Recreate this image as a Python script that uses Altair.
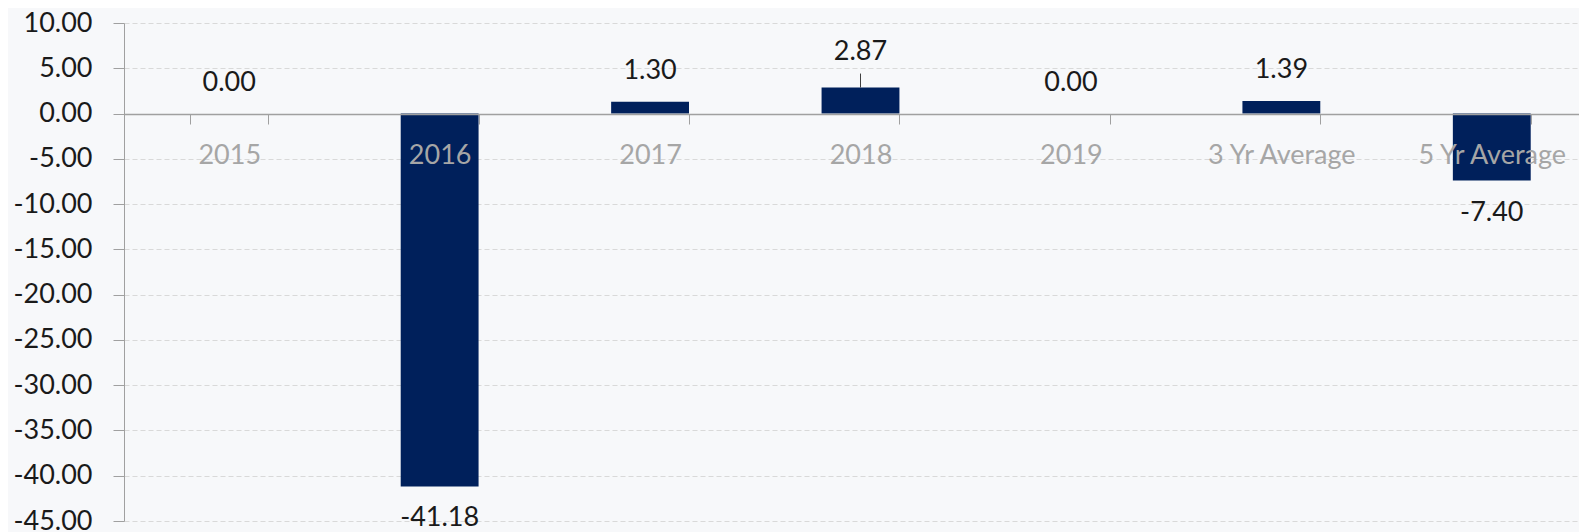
import altair as alt
import pandas as pd

categories = ["2015", "2016", "2017", "2018", "2019", "3 Yr Average", "5 Yr Average"]
values = [0.00, -41.18, 1.30, 2.87, 0.00, 1.39, -7.40]
leader_categories = ["2018"]
y_ticks = [10, 5, 0, -5, -10, -15, -20, -25, -30, -35, -40, -45]

df = pd.DataFrame({"category": categories, "value": values})

FONT = "Lato"
BG = "#f7f8fa"
NAVY = "#00205b"
FMT = "replace(format(datum.value, '.2f'), '\u2212', '-')"

x = alt.X(
    "category:N",
    sort=categories,
    scale=alt.Scale(paddingInner=0.63, paddingOuter=0.315),
    axis=alt.Axis(
        title=None,
        orient="bottom",
        offset=-407,
        labelAngle=0,
        labelColor="#a6a6a6",
        labelFontSize=27,
        labelFont=FONT,
        labelPadding=18,
        labelBaseline="top",
        domainColor="#a0a0a0",
        domainWidth=1.5,
        tickColor="#a0a0a0",
        tickSize=10,
        tickBand="extent",
        grid=False,
        zindex=1,
    ),
)

y = alt.Y(
    "value:Q",
    scale=alt.Scale(domain=[-45, 10], nice=False, zero=False),
    axis=alt.Axis(
        title=None,
        values=y_ticks,
        labelExpr=FMT,
        labelFontSize=27,
        labelFont=FONT,
        labelColor="#1a1a1a",
        labelPadding=21,
        domainColor="#a0a0a0",
        tickColor="#a0a0a0",
        tickSize=11,
        grid=True,
        gridColor="#d9d9d9",
        gridDash=[5, 3],
        gridWidth=1,
    ),
)

base = alt.Chart(df).transform_calculate(label=FMT)

bars = base.mark_bar(color=NAVY).encode(x=x, y=y)

lead_filter = alt.FieldOneOfPredicate(field="category", oneOf=leader_categories)

pos_labels = base.transform_filter("datum.value >= 0").transform_filter(
    {"not": lead_filter}
).mark_text(fontSize=27, font=FONT, color="#1a1a1a", baseline="middle", dy=-31).encode(
    x=x, y=y, text="label:N"
)

lead_labels = base.transform_filter(lead_filter).mark_text(
    fontSize=27, font=FONT, color="#1a1a1a", baseline="middle", dy=-36
).encode(x=x, y=y, text="label:N")

leader = base.transform_filter(lead_filter).mark_rule(
    color="#404040", strokeWidth=1, yOffset=-14, y2Offset=0
).encode(x=x, y=y, y2="value:Q")

neg_labels = base.transform_filter("datum.value < 0").mark_text(
    fontSize=27, font=FONT, color="#1a1a1a", baseline="middle", dy=32
).encode(x=x, y=y, text="label:N")

chart = (
    alt.layer(bars, leader, pos_labels, lead_labels, neg_labels)
    .properties(
        width=1473,
        height=498,
        autosize=alt.AutoSizeParams(type="none"),
        padding={"left": 116, "top": 15, "right": -18, "bottom": 11},
        background=BG,
    )
    .configure_view(stroke=None)
)

chart.save("out.html", embed_options={"renderer": "svg", "actions": False})
